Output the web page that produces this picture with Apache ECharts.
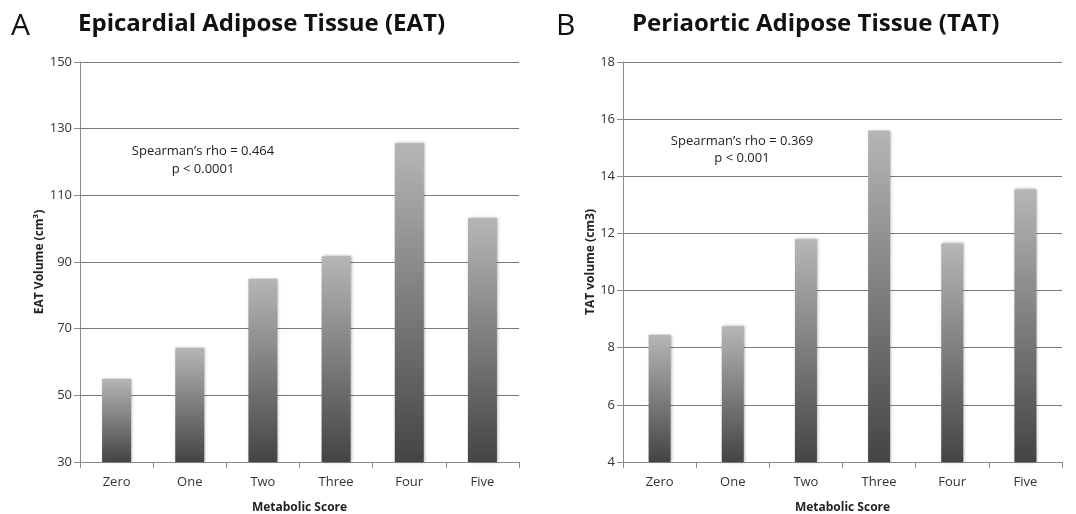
<!DOCTYPE html>
<html>
<head>
<meta charset="utf-8">
<script src="https://cdn.jsdelivr.net/npm/echarts@6/dist/echarts.min.js"></script>
<style>html,body{margin:0;padding:0;background:#fff;}#c{width:1076px;height:514px;}</style>
</head>
<body>
<div id="c"></div>
<script>
const categories = ['Zero', 'One', 'Two', 'Three', 'Four', 'Five'];
const eatValues = [55, 64.3, 85, 91.7, 125.6, 103.2];
const tatValues = [8.45, 8.75, 11.8, 15.6, 11.65, 13.55];
const eatTicks = { min: 30, max: 150, interval: 20 };
const tatTicks = { min: 4, max: 18, interval: 2 };

const FONT = '"Open Sans", "Liberation Sans", sans-serif';
const chart = echarts.init(document.getElementById('c'));

const barGrad = new echarts.graphic.LinearGradient(0, 0, 0, 1, [
  { offset: 0, color: '#b6b6b6' },
  { offset: 1, color: '#444444' }
]);

function yAxis(gi, ticks, name, gap) {
  return {
    type: 'value', gridIndex: gi, min: ticks.min, max: ticks.max, interval: ticks.interval,
    name: name, nameLocation: 'middle', nameGap: gap,
    nameTextStyle: { fontFamily: FONT, fontWeight: 'bold', fontSize: 12, color: '#222' },
    axisLine: { show: true, lineStyle: { color: '#8a8a8a', width: 1 } },
    axisTick: { show: true, length: 6, lineStyle: { color: '#8a8a8a' } },
    axisLabel: { fontFamily: FONT, fontSize: 13, color: '#333', margin: 8 },
    splitLine: { show: true, lineStyle: { color: '#7a7a7a', width: 1 } }
  };
}
function xAxis(gi) {
  return {
    type: 'category', gridIndex: gi, data: categories,
    name: 'Metabolic Score', nameLocation: 'middle', nameGap: 40,
    nameTextStyle: { fontFamily: FONT, fontWeight: 'bold', fontSize: 12, color: '#222' },
    axisLine: { show: true, lineStyle: { color: '#8a8a8a', width: 1 } },
    axisTick: { show: true, length: 6, alignWithLabel: false, lineStyle: { color: '#8a8a8a' } },
    axisLabel: { fontFamily: FONT, fontSize: 13, color: '#333', margin: 14 }
  };
}

chart.setOption({
  animation: false,
  backgroundColor: '#fff',
  grid: [
    { left: 80, top: 62, width: 439, height: 400, outerBoundsMode: 'none', containLabel: false },
    { left: 623, top: 62, width: 439, height: 400, outerBoundsMode: 'none', containLabel: false }
  ],
  xAxis: [xAxis(0), xAxis(1)],
  yAxis: [yAxis(0, eatTicks, 'EAT Volume (cm³)', 22), yAxis(1, tatTicks, 'TAT volume (cm3)', 26)],
  series: [
    { type: 'bar', xAxisIndex: 0, yAxisIndex: 0, data: eatValues, barWidth: 29,
      itemStyle: { color: barGrad, shadowBlur: 3, shadowColor: 'rgba(0,0,0,0.35)', shadowOffsetX: 1 } },
    { type: 'bar', xAxisIndex: 1, yAxisIndex: 1, data: tatValues, barWidth: 22,
      itemStyle: { color: barGrad, shadowBlur: 3, shadowColor: 'rgba(0,0,0,0.35)', shadowOffsetX: 1 } }
  ],
  graphic: [
    { type: 'text', left: 11, top: 11, style: { text: 'A', font: '30px ' + FONT, fill: '#111' } },
    { type: 'text', left: 78, top: 12, style: { text: 'Epicardial Adipose Tissue (EAT)', font: 'bold 24px ' + FONT, fill: '#111' } },
    { type: 'text', left: 556, top: 11, style: { text: 'B', font: '30px ' + FONT, fill: '#111' } },
    { type: 'text', left: 632, top: 12, style: { text: 'Periaortic Adipose Tissue (TAT)', font: 'bold 24px ' + FONT, fill: '#111' } },
    { type: 'text', x: 203, y: 142, style: { text: "Spearman’s rho = 0.464\np < 0.0001", font: '13px ' + FONT, fill: '#222', align: 'center', lineHeight: 18 } },
    { type: 'text', x: 742, y: 133, style: { text: "Spearman’s rho = 0.369\np < 0.001", font: '13px ' + FONT, fill: '#222', align: 'center', lineHeight: 17 } }
  ]
});
</script>
</body>
</html>
